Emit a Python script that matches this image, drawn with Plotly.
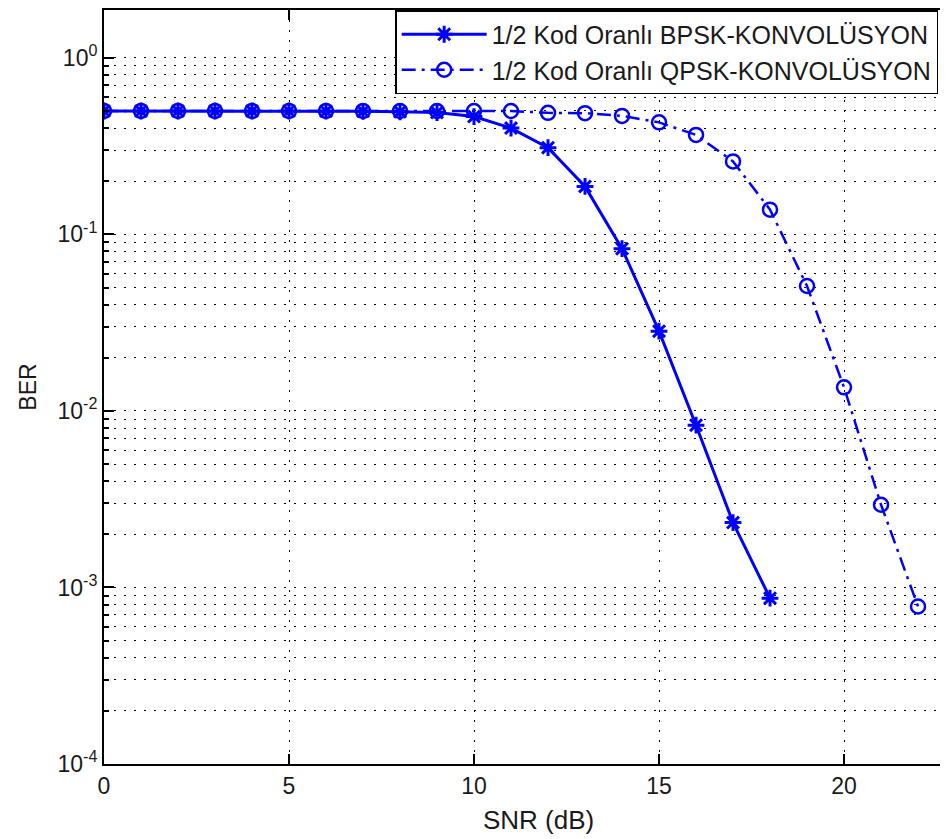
import plotly.graph_objects as go

# SNR (dB) ekseni
snr_bpsk = list(range(0, 19))
snr_qpsk = list(range(0, 23))

# BER degerleri
ber_bpsk = [0.5, 0.5, 0.5, 0.5, 0.5, 0.5, 0.499, 0.498, 0.495, 0.49,
            0.465, 0.40, 0.31, 0.187, 0.083, 0.0283, 0.0083, 0.00233, 0.00087]
ber_qpsk = [0.5, 0.5, 0.5, 0.5, 0.5, 0.5, 0.5, 0.5, 0.5, 0.5,
            0.5, 0.5, 0.488, 0.486, 0.469, 0.431, 0.366, 0.259, 0.138,
            0.051, 0.0136, 0.00294, 0.00078]

x_ticks = [0, 5, 10, 15, 20]
y_ticks = [1e-4, 1e-3, 1e-2, 1e-1, 1e0]
y_ticktext = ["10<sup>-4</sup>", "10<sup>-3</sup>", "10<sup>-2</sup>",
              "10<sup>-1</sup>", "10<sup>0</sup>"]
y_minor = [k * 10.0 ** e for e in range(-4, 1) for k in range(2, 10)]

BLUE = "#0000ff"
FONT = "Liberation Sans, Arial, sans-serif"
GRID = {"showgrid": True, "gridcolor": "#000000", "gridwidth": 1,
        "griddash": "2px,8px"}

fig = go.Figure()
fig.add_trace(go.Scatter(
    x=snr_bpsk, y=ber_bpsk, mode="lines+markers",
    name="1/2 Kod Oranlı BPSK-KONVOLÜSYON",
    line={"color": BLUE, "width": 3},
    marker={"symbol": "asterisk-open", "size": 14,
            "line": {"color": BLUE, "width": 3}},
))
fig.add_trace(go.Scatter(
    x=snr_qpsk, y=ber_qpsk, mode="lines+markers",
    name="1/2 Kod Oranlı QPSK-KONVOLÜSYON",
    line={"color": BLUE, "width": 2.5, "dash": "14px,6px,3px,6px"},
    marker={"symbol": "circle-open", "size": 14,
            "line": {"color": BLUE, "width": 2.5}},
))

# sayfa kenar boslugu (8px) hesaba katildi
fig.update_layout(
    width=940, height=831,
    margin={"l": 96, "r": 0, "t": 0, "b": 75},
    paper_bgcolor="white", plot_bgcolor="white",
    font={"family": FONT, "size": 23, "color": "#1a1a1a"},
    legend={"x": 0.345, "y": 1, "xanchor": "left", "yanchor": "top",
            "bgcolor": "white", "bordercolor": "#000000", "borderwidth": 1.5,
            "itemwidth": 85, "font": {"size": 25},
            "tracegroupgap": 0},
    xaxis={
        "range": [0, 22.81], "tickvals": x_ticks,
        "ticks": "inside", "ticklen": 10, "tickwidth": 1.5,
        "tickcolor": "#000000", "showline": True, "linecolor": "#000000",
        "linewidth": 2, "mirror": "ticks", "zeroline": False, **GRID,
    },
    yaxis={
        "type": "log", "range": [-4, 0.271],
        "tickvals": y_ticks, "ticktext": y_ticktext,
        "ticks": "inside", "ticklen": 10, "tickwidth": 1.5,
        "tickcolor": "#000000", "showline": True, "linecolor": "#000000",
        "linewidth": 2, "mirror": False, "zeroline": False, **GRID,
        "title": {"text": "BER", "standoff": 14, "font": {"size": 23}},
        "minor": {"tickvals": y_minor, "ticks": "inside", "ticklen": 5,
                  "tickcolor": "#000000", "showgrid": True,
                  "gridcolor": "#000000", "gridwidth": 1,
                  "griddash": "2px,8px"},
    },
    annotations=[{
        "text": "SNR (dB)", "xref": "paper", "yref": "paper",
        "x": 0.515, "y": 0, "yshift": -56, "xanchor": "center",
        "yanchor": "middle", "showarrow": False, "font": {"size": 26},
    }],
)

fig.write_html("out.html")
